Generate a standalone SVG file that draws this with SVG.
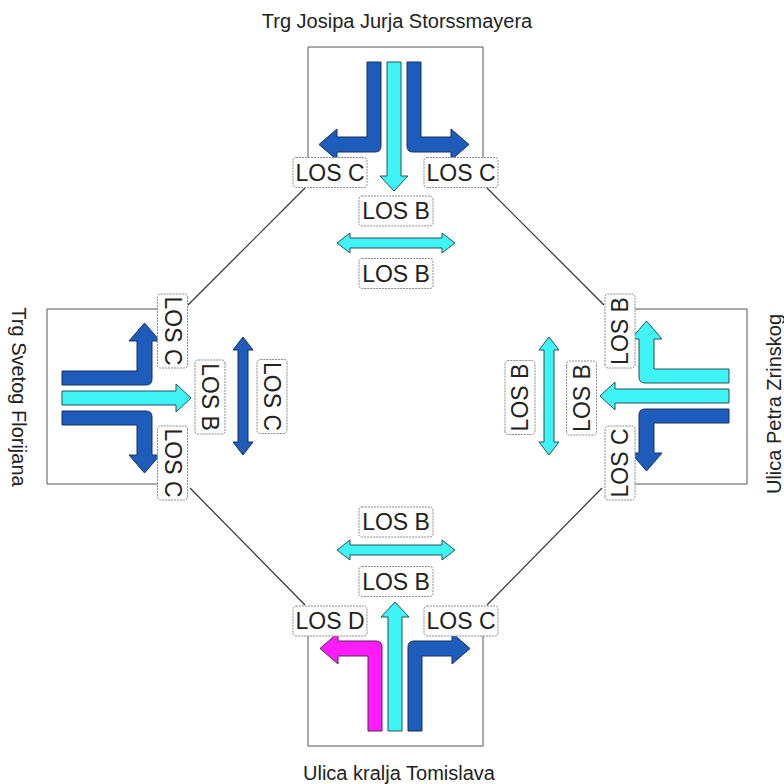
<svg xmlns="http://www.w3.org/2000/svg" xmlns:xlink="http://www.w3.org/1999/xlink" width="784" height="784" viewBox="0 0 784 784">
<style>
.box{fill:none;stroke:#555;stroke-width:1}
.con{stroke:#333;stroke-width:1.2;fill:none}
.dk{fill:#1e5cbc;stroke:#15305e;stroke-width:1}
.cy{fill:#3ef4f4;stroke:#2a4f5a;stroke-width:1}
.mg{fill:#ff1cff;stroke:#5a2050;stroke-width:1}
.lb rect{fill:#fff;stroke:#8a8a8a;stroke-width:1;stroke-dasharray:2 1}
.lb text{font-family:"Liberation Sans",Arial,sans-serif;font-size:23px;fill:#222;text-anchor:middle}
.ttl{font-family:"Liberation Sans",Arial,sans-serif;font-size:20px;fill:#222;text-anchor:middle}
</style>
<defs>
<path id="turnL" d="M367,62 H381 V146 Q381,152 375,152 H337 V160 L319,144.5 L337,129 V137 H367 Z"/>
<path id="straight" d="M387,62 H401 V176 H408 L394,191 L380,176 H387 Z"/>
<path id="turnR" d="M421,62 H407 V146 Q407,152 413,152 H451 V160 L469,144.5 L451,129 V137 H421 Z"/>
<path id="dbl" d="M337,243 L350,233 V238 H442 V233 L455,243 L442,253 V248 H350 V253 Z"/>
</defs>
<rect width="784" height="784" fill="#fff"/>

<g id="connectors">
<line class="con" x1="188" y1="305" x2="305" y2="188"/>
<line class="con" x1="604" y1="305" x2="487" y2="188"/>
<line class="con" x1="190" y1="488" x2="305" y2="605"/>
<line class="con" x1="602" y1="488" x2="487" y2="605"/>
</g>

<g id="north">
<path class="box" d="M308,165 V47 H483 V165"/>
<use href="#turnL" class="dk"/>
<use href="#straight" class="cy"/>
<use href="#turnR" class="dk"/>
<text class="ttl" x="397" y="28">Trg Josipa Jurja Storssmayera</text>
</g>

<g id="west">
<path class="box" d="M175,309 H47 V484 H175"/>
<g transform="rotate(-90 396 396)">
<use href="#turnL" class="dk"/>
<use href="#straight" class="cy"/>
<use href="#turnR" class="dk"/>
</g>
<text class="ttl" transform="translate(12,397) rotate(90)">Trg Svetog Florijana</text>
</g>

<g id="east">
<path class="box" d="M617,309 H747 V484 H617"/>
<g transform="translate(-1,2) rotate(90 396 396)">
<use href="#turnL" class="cy"/>
<use href="#straight" class="cy"/>
<use href="#turnR" class="dk"/>
</g>
<text class="ttl" transform="translate(781,404) rotate(-90)">Ulica Petra Zrinskog</text>
</g>

<g id="south">
<path class="box" d="M308,630 V746 H483 V630"/>
<g transform="translate(-3,1) rotate(180 396 396)">
<use href="#turnL" class="dk"/>
<use href="#straight" class="cy"/>
<use href="#turnR" class="mg"/>
</g>
<text class="ttl" x="399" y="780">Ulica kralja Tomislava</text>
</g>

<g id="center-arrows">
<use href="#dbl" class="cy"/>
<use href="#dbl" class="dk" transform="rotate(-90 396 396)"/>
<use href="#dbl" class="cy" transform="rotate(90 396 396)"/>
<path class="cy" d="M337,550 L350,540 V545 H442 V540 L455,550 L442,560 V555 H350 V560 Z"/>
</g>

<g id="labels">
<g class="lb" id="lbl-n-left" transform="translate(330,172.5)"><rect x="-37" y="-15" width="74" height="30" rx="3"/><text y="8">LOS C</text></g>
<g class="lb" id="lbl-n-right" transform="translate(461,172.5)"><rect x="-37" y="-15" width="74" height="30" rx="3"/><text y="8">LOS C</text></g>
<g class="lb" id="lbl-n-b1" transform="translate(396,211)"><rect x="-37" y="-15" width="74" height="30" rx="3"/><text y="8">LOS B</text></g>
<g class="lb" id="lbl-n-b2" transform="translate(396,273.5)"><rect x="-37" y="-15" width="74" height="30" rx="3"/><text y="8">LOS B</text></g>

<g class="lb" id="lbl-s-b1" transform="translate(396,522)"><rect x="-37" y="-15" width="74" height="30" rx="3"/><text y="8">LOS B</text></g>
<g class="lb" id="lbl-s-b2" transform="translate(396,581.5)"><rect x="-37" y="-15" width="74" height="30" rx="3"/><text y="8">LOS B</text></g>
<g class="lb" id="lbl-s-left" transform="translate(330,621)"><rect x="-37" y="-15" width="74" height="30" rx="3"/><text y="8">LOS D</text></g>
<g class="lb" id="lbl-s-right" transform="translate(461,621)"><rect x="-37" y="-15" width="74" height="30" rx="3"/><text y="8">LOS C</text></g>

<g class="lb" id="lbl-w-top" transform="translate(172.5,331) rotate(90)"><rect x="-37" y="-15" width="74" height="30" rx="3"/><text y="8">LOS C</text></g>
<g class="lb" id="lbl-w-bot" transform="translate(172.5,463) rotate(90)"><rect x="-37" y="-15" width="74" height="30" rx="3"/><text y="8">LOS C</text></g>
<g class="lb" id="lbl-w-b" transform="translate(210,397) rotate(90)"><rect x="-37" y="-15" width="74" height="30" rx="3"/><text y="8">LOS B</text></g>
<g class="lb" id="lbl-w-c" transform="translate(272,396.5) rotate(90)"><rect x="-37" y="-15" width="74" height="30" rx="3"/><text y="8">LOS C</text></g>

<g class="lb" id="lbl-e-top" transform="translate(620,331) rotate(-90)"><rect x="-37" y="-15" width="74" height="30" rx="3"/><text y="8">LOS B</text></g>
<g class="lb" id="lbl-e-bot" transform="translate(620,463) rotate(-90)"><rect x="-37" y="-15" width="74" height="30" rx="3"/><text y="8">LOS C</text></g>
<g class="lb" id="lbl-e-b1" transform="translate(581.5,398) rotate(-90)"><rect x="-37" y="-15" width="74" height="30" rx="3"/><text y="8">LOS B</text></g>
<g class="lb" id="lbl-e-b2" transform="translate(520,397.5) rotate(-90)"><rect x="-37" y="-15" width="74" height="30" rx="3"/><text y="8">LOS B</text></g>
</g>
</svg>
